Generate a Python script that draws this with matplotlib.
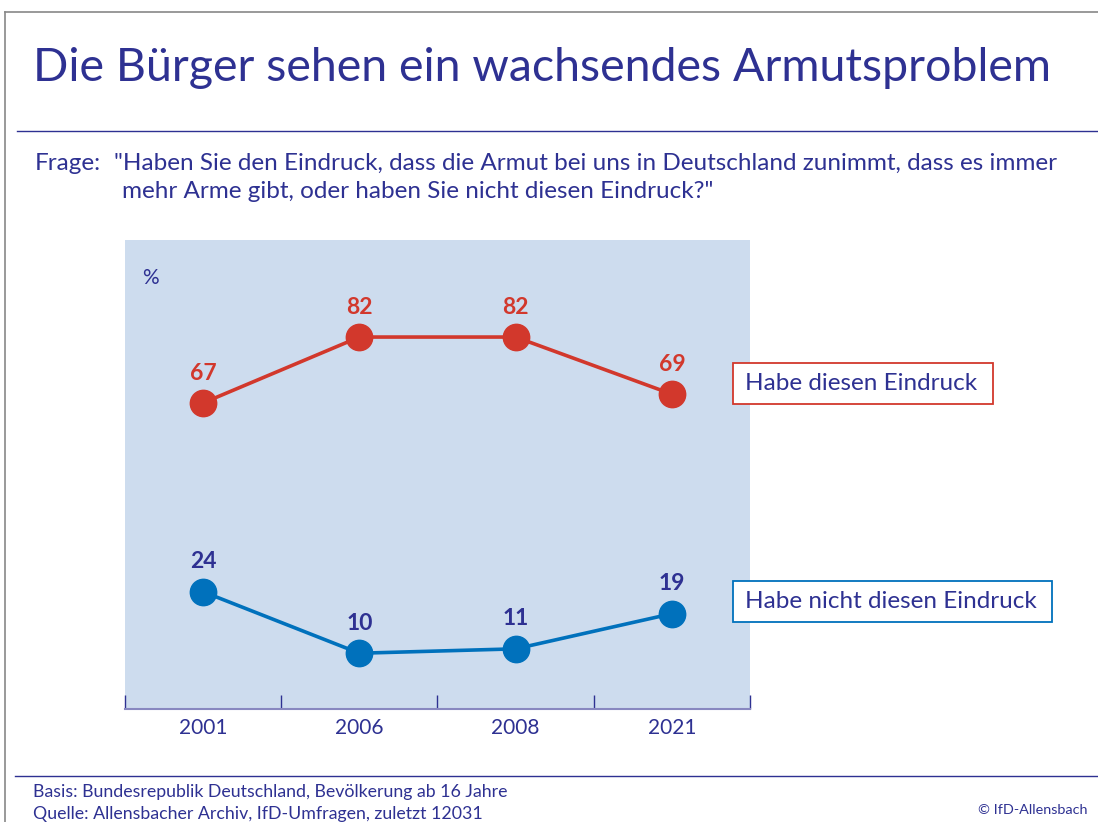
import matplotlib.pyplot as plt
from matplotlib.lines import Line2D
from matplotlib.patches import Rectangle

years = ["2001", "2006", "2008", "2021"]
habe = [67, 82, 82, 69]
nicht = [24, 10, 11, 19]
series_labels = ["Habe diesen Eindruck", "Habe nicht diesen Eindruck"]

NAVY = "#2e3192"
RED = "#d2382c"
BLUE = "#0071bc"
BG = "#cddcee"

plt.rcParams['font.family'] = ['Lato', 'DejaVu Sans']

fig = plt.figure(figsize=(10.98, 8.22), dpi=100)
W, H = 1098, 822


def fx(px):
    return px / W


def fy(py):
    return 1 - py / H


# frame and rules
fig.add_artist(Line2D([fx(5), fx(5)], [fy(12), 0], color="#888888", lw=1.2))
fig.add_artist(Line2D([fx(5), 1], [fy(12), fy(12)], color="#888888", lw=1.2))
fig.add_artist(Line2D([fx(17), 1], [fy(131), fy(131)], color=NAVY, lw=1.0))
fig.add_artist(Line2D([fx(15), 1], [fy(776), fy(776)], color=NAVY, lw=1.0))

fig.text(fx(33), fy(68), "Die Bürger sehen ein wachsendes Armutsproblem",
         color=NAVY, fontsize=33.5, va="center", ha="left")
fig.text(fx(35), fy(163), "Frage:", color=NAVY, fontsize=17.5, va="center")
fig.text(fx(114), fy(163),
         "\"Haben Sie den Eindruck, dass die Armut bei uns in Deutschland zunimmt, dass es immer",
         color=NAVY, fontsize=17.5, va="center")
fig.text(fx(122), fy(191),
         "mehr Arme gibt, oder haben Sie nicht diesen Eindruck?\"",
         color=NAVY, fontsize=17.5, va="center")

ax = fig.add_axes([fx(125), fy(709), fx(750) - fx(125), fy(240) - fy(709)])
ax.set_facecolor(BG)
x = [i + 0.5 for i in range(len(years))]
ax.plot(x, habe, color=RED, lw=2.6, marker="o", ms=19, zorder=3)
ax.plot(x, nicht, color=BLUE, lw=2.6, marker="o", ms=19, zorder=3)
for xi, v in zip(x, habe):
    ax.text(xi, v + 6.8, str(v), color=RED, fontsize=16.5, fontweight="bold",
            ha="center", va="center")
for xi, v in zip(x, nicht):
    ax.text(xi, v + 6.8, str(v), color=NAVY, fontsize=16.5, fontweight="bold",
            ha="center", va="center")

ax.set_xlim(0, 4)
ax.set_ylim(-2.7, 104.1)
for s in ["top", "right", "left"]:
    ax.spines[s].set_visible(False)
ax.spines["bottom"].set_color("#8888c0")
ax.spines["bottom"].set_linewidth(1.5)
ax.set_yticks([])
ax.set_xticks(range(5))
ax.set_xticklabels([])
ax.tick_params(axis="x", direction="in", length=10, color=NAVY, width=1)
for xi, yr in zip(x, years):
    ax.text(xi, -0.02, yr, transform=ax.get_xaxis_transform(), color=NAVY,
            fontsize=15, ha="center", va="top")
ax.text(0.04, 0.92, "%", transform=ax.transAxes, color=NAVY, fontsize=15,
        ha="center", va="center")

# legend boxes
for (x0, y0, x1, y1, col, lab) in [(733, 363, 993, 404, RED, series_labels[0]),
                                    (733, 581, 1052, 622, BLUE, series_labels[1])]:
    fig.add_artist(Rectangle((fx(x0), fy(y1)), fx(x1) - fx(x0), fy(y0) - fy(y1),
                             facecolor="white", edgecolor=col, lw=1.3))
    fig.text(fx(745), fy((y0 + y1) / 2), lab, color=NAVY, fontsize=17.5, va="center")

fig.text(fx(33), fy(792), "Basis: Bundesrepublik Deutschland, Bevölkerung ab 16 Jahre",
         color=NAVY, fontsize=12.8, va="center")
fig.text(fx(33), fy(814), "Quelle: Allensbacher Archiv, IfD-Umfragen, zuletzt 12031",
         color=NAVY, fontsize=12.8, va="center")
fig.text(fx(1088), fy(810), "© IfD-Allensbach", color=NAVY, fontsize=10.4,
         ha="right", va="center")

fig.savefig("out.png", dpi=100)
